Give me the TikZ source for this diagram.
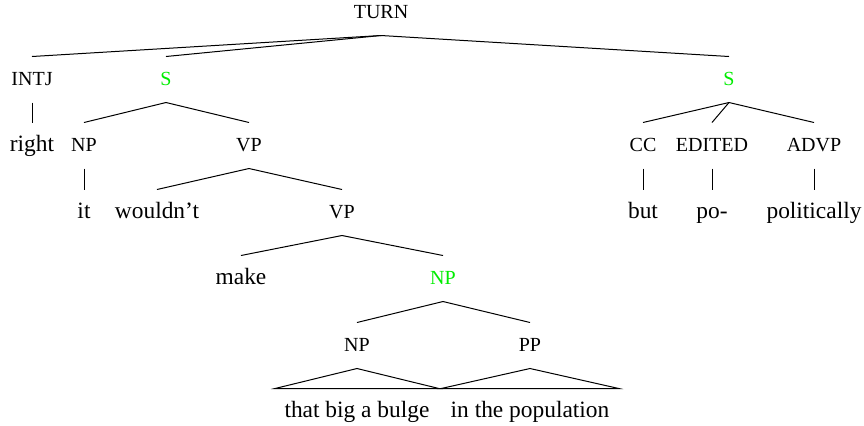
\documentclass[tikz,border=0pt]{standalone}
\usepackage{fontspec}
\setmainfont{Liberation Serif}
\definecolor{brightgreen}{rgb}{0,0.93,0}
\begin{document}
\begin{tikzpicture}[x=0.5pt,y=-0.5pt,line width=0.5pt,
  base/.style={anchor=base,inner sep=0pt,text height=14pt,text depth=8.5pt},
  lab/.style={base,font=\fontsize{10}{12}\selectfont},
  wrd/.style={base,font=\fontsize{11.7}{14}\selectfont},
  tri/.style={wrd,inner xsep=4.5pt},
  hl/.style={text=brightgreen}]
\useasboundingbox (0,0) rectangle (864,425);
% row baselines: 18, 85, 151, 218, 284, 351, 417
\node[lab] (turn) at (381,18) {TURN};
\node[lab] (intj) at (32,85) {INTJ};
\node[lab,hl] (s1) at (166,85) {S};
\node[lab,hl] (s2) at (729,85) {S};
\node[wrd] (right) at (32,151) {right};
\node[lab] (np1) at (84,151) {NP};
\node[lab] (vp1) at (249,151) {VP};
\node[lab] (cc) at (643,151) {CC};
\node[lab] (edited) at (712,151) {EDITED};
\node[lab] (advp) at (814,151) {ADVP};
\node[wrd] (it) at (84,218) {it};
\node[wrd] (wouldnt) at (157,218) {wouldn’t};
\node[lab] (vp2) at (342,218) {VP};
\node[wrd] (but) at (643,218) {but};
\node[wrd] (po) at (712,218) {po-};
\node[wrd] (politically) at (814,218) {politically};
\node[wrd] (make) at (241,284) {make};
\node[lab,hl] (np2) at (443,284) {NP};
\node[lab] (np3) at (357,351) {NP};
\node[lab] (pp) at (530,351) {PP};
\node[tri] (bulge) at (357,417) {that big a bulge};
\node[tri] (population) at (530,417) {in the population};
% connectors
\draw (turn.south) -- (intj.north);
\draw (turn.south) -- (s1.north);
\draw (turn.south) -- (s2.north);
\draw (intj.south) -- (right.north);
\draw (s1.south) -- (np1.north);
\draw (s1.south) -- (vp1.north);
\draw (np1.south) -- (it.north);
\draw (vp1.south) -- (wouldnt.north);
\draw (vp1.south) -- (vp2.north);
\draw (vp2.south) -- (make.north);
\draw (vp2.south) -- (np2.north);
\draw (np2.south) -- (np3.north);
\draw (np2.south) -- (pp.north);
\draw (np3.south) -- (bulge.north west) -- (bulge.north east) -- cycle;
\draw (pp.south) -- (population.north west) -- (population.north east) -- cycle;
\draw (s2.south) -- (cc.north);
\draw (s2.south) -- (edited.north);
\draw (s2.south) -- (advp.north);
\draw (cc.south) -- (but.north);
\draw (edited.south) -- (po.north);
\draw (advp.south) -- (politically.north);
\end{tikzpicture}
\end{document}
